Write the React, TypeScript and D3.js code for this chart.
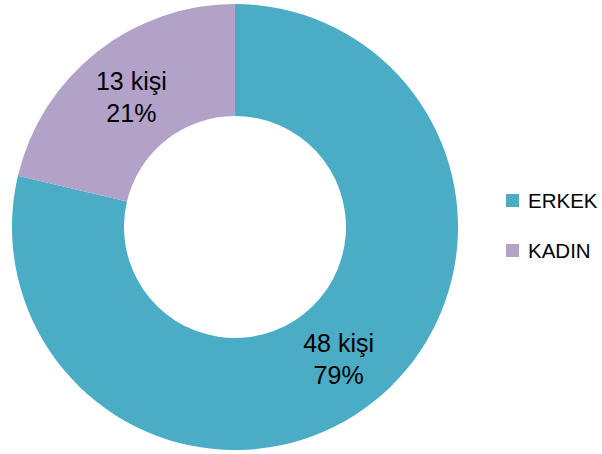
import React from "react";
import * as d3 from "d3";

const categories = ["ERKEK", "KADIN"];
const values = [48, 13];
const percents = ["79%", "21%"];
const colors = ["#4BACC6", "#B2A2C7"];

export default function App() {
  const width = 602;
  const height = 454;
  const cx = 235;
  const cy = 227;
  const outerR = 223;
  const innerR = 111;
  const data = categories.map((c, i) => ({ c, v: values[i], p: percents[i], color: colors[i] }));
  const pie = d3.pie<any>().value((d) => d.v).sort(null).startAngle(0).endAngle(2 * Math.PI);
  const arcs = pie(data);
  const arc = d3.arc<any>().innerRadius(innerR).outerRadius(outerR);
  const font = "'Liberation Sans', Arial, sans-serif";
  return (
    <svg width={width} height={height} style={{ position: "absolute", left: 0, top: 0 }}>
      <rect width={width} height={height} fill="#fff" />
      <g transform={`translate(${cx},${cy})`}>
        {arcs.map((a, i) => (
          <path key={i} d={arc(a) as string} fill={a.data.color} />
        ))}
        {arcs.map((a, i) => {
          const [x, y] = arc.centroid(a);
          return (
            <text key={"t" + i} x={x} y={y} textAnchor="middle" fontFamily={font} fontSize={25} fill="#000">
              <tspan x={x} dy={-6}>{`${a.data.v} kişi`}</tspan>
              <tspan x={x} dy={32}>{a.data.p}</tspan>
            </text>
          );
        })}
      </g>
      {data.map((d, i) => (
        <g key={"l" + i} transform={`translate(506,${194 + i * 50})`}>
          <rect x={0} y={0} width={13} height={13} fill={d.color} />
          <text x={22} y={14} fontFamily={font} fontSize={20.5} fill="#000">{d.c}</text>
        </g>
      ))}
    </svg>
  );
}
